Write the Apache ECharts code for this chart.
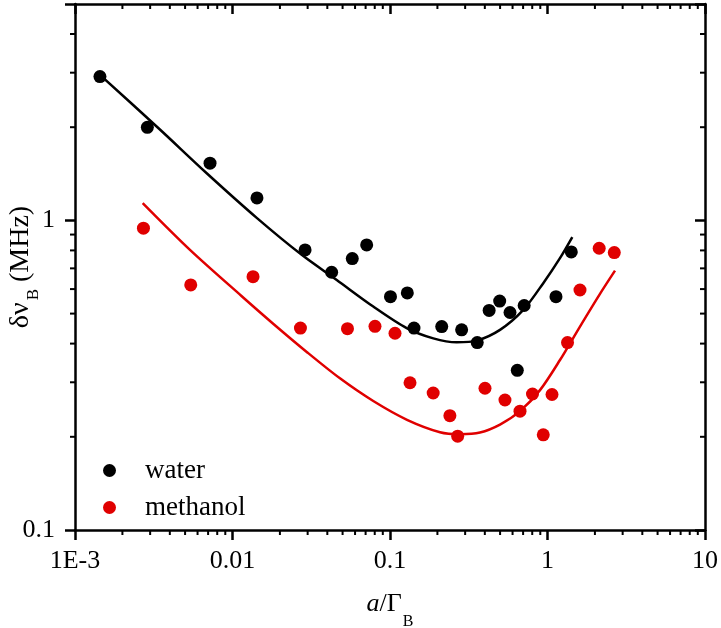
<!DOCTYPE html>
<html>
<head>
<meta charset="utf-8">
<script src="https://cdn.jsdelivr.net/npm/echarts@6/dist/echarts.min.js"></script>
<style>
  html, body { margin: 0; padding: 0; background: #fff; }
  #main { width: 721px; height: 628px; }
</style>
</head>
<body>
<div id="main"></div>
<script>
var waterX = [0.00144, 0.00288, 0.0072, 0.0143, 0.0289, 0.0426, 0.0576, 0.0711, 0.1007, 0.1288, 0.142,
  0.213, 0.285, 0.358, 0.426, 0.497, 0.578, 0.711, 0.643, 1.132, 1.416];
var waterY = [2.915, 1.998, 1.53, 1.182, 0.803, 0.68, 0.753, 0.833, 0.567, 0.583, 0.449,
  0.454, 0.443, 0.403, 0.512, 0.549, 0.504, 0.531, 0.328, 0.567, 0.791];

var methX = [0.00272, 0.00543, 0.0135, 0.027, 0.0537, 0.0803, 0.1076, 0.134, 0.188, 0.24, 0.269,
  0.401, 0.537, 0.669, 0.803, 1.068, 0.94, 1.34, 1.608, 2.129, 2.655];
var methY = [0.944, 0.619, 0.658, 0.449, 0.447, 0.455, 0.432, 0.299, 0.277, 0.234, 0.201,
  0.287, 0.263, 0.242, 0.275, 0.274, 0.203, 0.403, 0.596, 0.813, 0.787];

// fitted curves
var waterFitX = [0.00144, 0.00346, 0.00686, 0.01425, 0.0275, 0.0459, 0.0783, 0.1276, 0.1884, 0.2651,
  0.3553, 0.4993, 0.702, 0.94, 1.2, 1.437];
var waterFitY = [2.952, 1.966, 1.42, 1.019, 0.774, 0.642, 0.527, 0.449, 0.416, 0.404,
  0.409, 0.443, 0.514, 0.627, 0.755, 0.883];

var methFitX = [0.00269, 0.00537, 0.0114, 0.0182, 0.0296, 0.0481, 0.0783, 0.1282, 0.2077, 0.2782,
  0.3727, 0.4993, 0.669, 0.896, 1.2, 1.608, 2.154, 2.683];
var methFitY = [1.137, 0.803, 0.57, 0.463, 0.376, 0.309, 0.261, 0.227, 0.207, 0.204,
  0.2065, 0.219, 0.242, 0.283, 0.354, 0.454, 0.579, 0.688];

var xTickLabels = ['1E-3', '0.01', '0.1', '1', '10'];   // 10^-3 .. 10^1
var yTickLabels = ['0.1', '1'];                         // 10^-1 .. 10^0
var xMinorTicks = [0.002, 0.003, 0.004, 0.005, 0.006, 0.007, 0.008, 0.009,
  0.02, 0.03, 0.04, 0.05, 0.06, 0.07, 0.08, 0.09,
  0.2, 0.3, 0.4, 0.5, 0.6, 0.7, 0.8, 0.9,
  2, 3, 4, 5, 6, 7, 8, 9];
var yMinorTicks = [0.2, 0.3, 0.4, 0.5, 0.6, 0.7, 0.8, 0.9, 2, 3, 4];

var FONT = 'Liberation Serif';

function zip(xs, ys) {
  return xs.map(function (x, i) { return [x, ys[i]]; });
}

function decadeLabel(labels, lowExp) {
  return function (v) {
    var e = Math.round(Math.log10(v));
    if (Math.abs(Math.log10(v) - e) > 1e-6) return '';
    return labels[e - lowExp] || '';
  };
}

// minor ticks at 2..9 of each decade, on all four sides
var minorData = xMinorTicks.map(function (v) { return [v, 1, 0]; })
  .concat(yMinorTicks.map(function (v) { return [0.01, v, 1]; }));

function renderMinor(params, api) {
  var cs = params.coordSys;
  var len = 5;
  var st = { stroke: '#000', lineWidth: 2 };
  var segs;
  if (api.value(2) === 0) {
    var x = api.coord([api.value(0), 1])[0];
    var b = cs.y + cs.height;
    segs = [[x, b, x, b + len], [x, cs.y, x, cs.y + len]];
  } else {
    var y = api.coord([0.01, api.value(1)])[1];
    var r = cs.x + cs.width;
    segs = [[cs.x - len, y, cs.x, y], [r - len, y, r, y]];
  }
  return {
    type: 'group',
    children: segs.map(function (s) {
      return { type: 'line', shape: { x1: s[0], y1: s[1], x2: s[2], y2: s[3] }, style: st };
    })
  };
}

var axisLine = { show: true, lineStyle: { color: '#000', width: 2.5 } };
var labelStyle = { color: '#000', fontFamily: FONT, fontSize: 26 };

var chart = echarts.init(document.getElementById('main'), null, { renderer: 'canvas' });

var option = {
  backgroundColor: '#fff',
  animation: false,
  grid: { left: 75, right: 16, top: 4, bottom: 98, containLabel: false, outerBoundsMode: 'none' },
  legend: {
    orient: 'vertical',
    left: 98,
    top: 452,
    data: ['water', 'methanol'],
    icon: 'circle',
    itemWidth: 13,
    itemHeight: 13,
    itemGap: 10,
    selectedMode: false,
    textStyle: { color: '#000', fontFamily: FONT, fontSize: 27, lineHeight: 27, padding: [0, 0, 0, 24] }
  },
  xAxis: [{
    type: 'log',
    logBase: 10,
    min: 0.001,
    max: 10,
    position: 'bottom',
    axisLine: axisLine,
    axisTick: { show: true, inside: false, length: 10, lineStyle: { color: '#000', width: 2.5 } },
    axisLabel: Object.assign({ margin: 18, formatter: decadeLabel(xTickLabels, -3) }, labelStyle),
    splitLine: { show: false },
    name: '{i|a}{m|/Γ}{s|B}',
    nameLocation: 'middle',
    nameGap: 61,
    nameMoveOverlap: false,
    nameTextStyle: {
      color: '#000',
      rich: {
        i: { fontFamily: FONT, fontSize: 26, fontStyle: 'italic', verticalAlign: 'top', color: '#000' },
        m: { fontFamily: FONT, fontSize: 26, verticalAlign: 'top', color: '#000' },
        s: { fontFamily: FONT, fontSize: 16, verticalAlign: 'top', padding: [23, 0, 0, 1], color: '#000' }
      }
    }
  }, {
    type: 'log',
    logBase: 10,
    min: 0.001,
    max: 10,
    position: 'top',
    axisLine: axisLine,
    axisTick: { show: true, inside: true, length: 10, lineStyle: { color: '#000', width: 2.5 } },
    axisLabel: { show: false },
    splitLine: { show: false }
  }],
  yAxis: [{
    type: 'log',
    logBase: 10,
    min: 0.1,
    max: 5,
    position: 'left',
    axisLine: axisLine,
    axisTick: { show: true, inside: false, length: 10, lineStyle: { color: '#000', width: 2.5 } },
    axisLabel: Object.assign({ margin: 20, formatter: decadeLabel(yTickLabels, -1) }, labelStyle),
    splitLine: { show: false },
    name: '{m|δν}{s|B}{m| (MHz)}',
    nameLocation: 'middle',
    nameGap: 33,
    nameMoveOverlap: false,
    nameTextStyle: {
      color: '#000',
      rich: {
        m: { fontFamily: FONT, fontSize: 28, verticalAlign: 'top', color: '#000' },
        s: { fontFamily: FONT, fontSize: 17, verticalAlign: 'top', padding: [18, 0, 0, 2], color: '#000' }
      }
    }
  }, {
    type: 'log',
    logBase: 10,
    min: 0.1,
    max: 5,
    position: 'right',
    axisLine: axisLine,
    axisTick: { show: true, inside: true, length: 10, lineStyle: { color: '#000', width: 2.5 } },
    axisLabel: { show: false },
    splitLine: { show: false }
  }],
  series: [{
    name: 'water fit',
    type: 'line',
    data: zip(waterFitX, waterFitY),
    showSymbol: false,
    symbol: 'none',
    smooth: 0.3,
    lineStyle: { color: '#000', width: 2.5 },
    z: 2
  }, {
    name: 'methanol fit',
    type: 'line',
    data: zip(methFitX, methFitY),
    showSymbol: false,
    symbol: 'none',
    smooth: 0.3,
    lineStyle: { color: '#e00000', width: 2.5 },
    z: 2
  }, {
    name: 'water',
    type: 'scatter',
    data: zip(waterX, waterY),
    symbol: 'circle',
    symbolSize: 13,
    itemStyle: { color: '#000', opacity: 1 },
    z: 3
  }, {
    name: 'methanol',
    type: 'scatter',
    data: zip(methX, methY),
    symbol: 'circle',
    symbolSize: 13,
    itemStyle: { color: '#e00000', opacity: 1 },
    z: 3
  }, {
    name: 'minor ticks',
    type: 'custom',
    data: minorData,
    renderItem: renderMinor,
    silent: true,
    clip: false,
    z: 5
  }]
};

chart.setOption(option);
</script>
</body>
</html>
